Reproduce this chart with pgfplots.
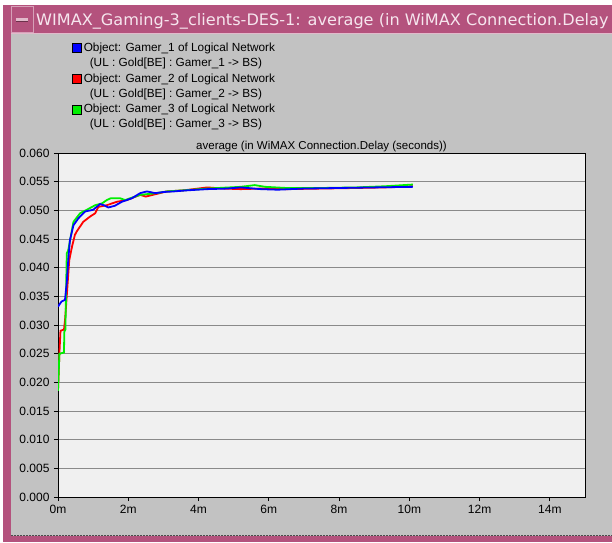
\documentclass[border=0pt]{standalone}
\usepackage{pgfplots}
\pgfplotsset{compat=1.18}
\usepackage{pgfplotstable}
\usepackage{fontspec}
\setmainfont{Liberation Sans}
\newfontfamily\titlefont{DejaVu Sans}

\definecolor{frame}{HTML}{B4527D}
\definecolor{titletext}{HTML}{F6E6EE}
\definecolor{panel}{HTML}{C2C2C2}
\definecolor{plotbg}{HTML}{F0F0F0}
\definecolor{gridgray}{HTML}{8A8A8A}
\definecolor{gblue}{HTML}{0000FF}
\definecolor{gred}{HTML}{FF0000}
\definecolor{ggreen}{HTML}{00EE00}

% time (minutes), average WiMAX connection delay (seconds)
\pgfplotstableread{
t v
0.00 0.0332
0.10 0.0341
0.20 0.0344
0.25 0.0375
0.30 0.0420
0.34 0.0448
0.44 0.0474
0.58 0.0486
0.77 0.0498
1.00 0.0501
1.20 0.0511
1.30 0.0509
1.43 0.0505
1.62 0.0508
1.82 0.0515
2.10 0.0521
2.34 0.0530
2.53 0.0533
2.77 0.0530
3.00 0.0532
3.29 0.0533
3.70 0.0535
4.25 0.0537
4.80 0.0538
5.20 0.0540
5.77 0.0537
6.25 0.0536
7.00 0.0538
8.00 0.0539
9.00 0.0540
10.10 0.0541
}\gamerone

\pgfplotstableread{
t v
0.00 0.0185
0.04 0.0250
0.07 0.0290
0.17 0.0292
0.20 0.0308
0.26 0.0360
0.32 0.0413
0.40 0.0437
0.48 0.0457
0.53 0.0463
0.72 0.0480
0.91 0.0489
1.06 0.0495
1.15 0.0506
1.39 0.0509
1.68 0.0515
1.96 0.0518
2.34 0.0527
2.50 0.0524
2.63 0.0526
3.10 0.0533
3.60 0.0535
4.25 0.0540
4.70 0.0538
5.20 0.0537
5.80 0.0538
6.50 0.0537
7.50 0.0538
8.50 0.0539
9.30 0.0540
10.10 0.0542
}\gamertwo

\pgfplotstableread{
t v
0.00 0.0185
0.04 0.0250
0.17 0.0252
0.18 0.0288
0.21 0.0292
0.25 0.0425
0.29 0.0430
0.35 0.0450
0.44 0.0480
0.63 0.0495
0.82 0.0501
1.06 0.0509
1.25 0.0512
1.39 0.0518
1.50 0.0521
1.77 0.0521
1.91 0.0518
2.34 0.0527
2.80 0.0530
3.10 0.0533
3.60 0.0535
4.25 0.0538
5.20 0.0541
5.60 0.0544
5.90 0.0541
6.50 0.0539
7.50 0.0539
8.50 0.0540
9.30 0.0542
10.10 0.0545
}\gamerthree

\begin{document}
\begin{tikzpicture}[x=1pt,y=1pt]
% window drawn in its own frame; the plot rectangle starts at (58,45) there
\begin{scope}[xshift=-58pt, yshift=-45pt]
\useasboundingbox (0,0) rectangle (612,542);
\fill[white] (0,0) rectangle (612,542);
\fill[frame] (3,0) rectangle (612,537);
\fill[panel] (11,6) rectangle (612,509);
\draw[black!70, line width=0.8pt, dash pattern=on 2pt off 1pt] (11,6.5) -- (612,6.5);
\draw[frame!40!white, line width=0.6pt] (11,509) -- (612,509);
% minimise button
\draw[frame!55!white, line width=0.6pt] (11,510) rectangle (33,536);
\fill[frame!40!white] (16,521) rectangle (28,523.5);
\fill[frame!60!black] (16,520.5) rectangle (28,521);
\node[anchor=base west, inner sep=0pt, text=titletext, font=\titlefont\fontsize{15.8}{18}\selectfont]
  at (36,516) {\scalebox{1.02}[1]{WIMAX\_Gaming-3\_clients-DES-1: average (in WiMAX Connection.Delay}};
\end{scope}

\begin{axis}[
  anchor=south west,
  scale only axis, width=527pt, height=344pt,
  xmin=0, xmax=15, ymin=0, ymax=0.06,
  axis background/.style={fill=plotbg},
  axis line style={black, line width=0.9pt},
  xtick={0,2,4,6,8,10,12,14},
  xticklabels={0m,2m,4m,6m,8m,10m,12m,14m},
  ytick={0,0.005,...,0.0601},
  scaled y ticks=false,
  yticklabel style={/pgf/number format/fixed, /pgf/number format/fixed zerofill,
    /pgf/number format/precision=3, xshift=-1pt},
  /pgf/number format/assume math mode=true,
  tick label style={font=\fontsize{12}{14}\selectfont, black},
  xticklabel style={yshift=-1pt},
  tick align=outside, major tick length=4pt,
  tick style={black, line width=0.8pt},
  xtick pos=bottom, ytick pos=left,
  ymajorgrids, grid style={gridgray, line width=0.9pt},
  title={average (in WiMAX Connection.Delay (seconds))},
  title style={at={(axis description cs:0.5,1)}, anchor=base, yshift=-2pt,
    inner sep=0pt, font=\fontsize{11.5}{13}\selectfont},
  legend style={at={(axis description cs:0.0266,1.3255)}, anchor=north west,
    draw=none, fill=none, inner sep=0pt, row sep=1.5pt,
    font=\fontsize{11.8}{15}\selectfont,
    cells={anchor=west, align=left},
    /tikz/every even column/.append style={column sep=3pt}},
  legend image code/.code={\filldraw[#1, draw=black, line width=0.6pt] (0pt,3pt) rectangle (9pt,12pt);},
]
\addplot[gred, line width=1.8pt, forget plot] table[x=t, y=v] {\gamertwo};
\addplot[ggreen, line width=1.8pt, forget plot] table[x=t, y=v] {\gamerthree};
\addplot[gblue, line width=1.8pt, forget plot] table[x=t, y=v] {\gamerone};
\addlegendimage{fill=gblue}
\addlegendentry{Object: Gamer\_1 of Logical Network\\\hspace*{6pt}(UL : Gold[BE] : Gamer\_1 -{}> BS)}
\addlegendimage{fill=gred}
\addlegendentry{Object: Gamer\_2 of Logical Network\\\hspace*{6pt}(UL : Gold[BE] : Gamer\_2 -{}> BS)}
\addlegendimage{fill=ggreen}
\addlegendentry{Object: Gamer\_3 of Logical Network\\\hspace*{6pt}(UL : Gold[BE] : Gamer\_3 -{}> BS)}
\end{axis}
\end{tikzpicture}
\end{document}
